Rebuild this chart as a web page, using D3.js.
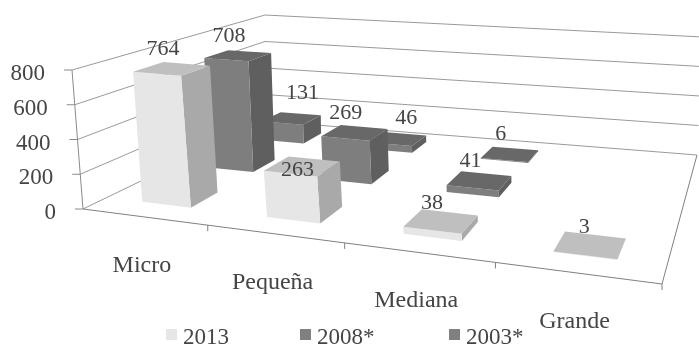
<!DOCTYPE html>
<html>
<head>
<meta charset="utf-8">
<script src="https://cdn.jsdelivr.net/npm/d3@7"></script>
<style>
  html, body { margin: 0; padding: 0; background: #fff; }
  svg { display: block; }
  text { font-family: "Liberation Serif", serif; font-size: 23px; fill: #444; }
  .vlabel { font-size: 22px; }
  .xlabel { font-size: 24px; }
</style>
</head>
<body>
<div id="chart"></div>
<script>
const categories = ['Micro', 'Pequeña', 'Mediana', 'Grande'];
const seriesNames = ['2013', '2008*', '2003*'];
const values2013 = [764, 263, 38, 3];
const values2008 = [708, 269, 41, null];
const values2003 = [131, 46, 6, null];
const yTicks = [0, 200, 400, 600, 800];

const seriesValues = [values2013, values2008, values2003];
const faceColors = [
  { front: '#e6e6e6', side: '#a9a9a9', top: '#bfbfbf' },
  { front: '#7e7e7e', side: '#5f5f5f', top: '#686868' },
  { front: '#7e7e7e', side: '#5f5f5f', top: '#686868' }
];
// labels the original chart moved off their bars
const labelShift = { 131: [20, -5], 46: [18, -1], 263: [4, 24], 38: [0, 2], 3: [3, 2] };
const legendLeft = [166, 300, 449];

const width = 699, height = 346;

const svg = d3.select('#chart').append('svg')
  .attr('width', width)
  .attr('height', height);

svg.append('defs').append('filter').attr('id', 'soft')
  .append('feGaussianBlur').attr('stdDeviation', 0.65);

const g = svg.append('g').attr('filter', 'url(#soft)');

// unit square -> quad, corners go front-left, front-right, back-right, back-left
function quadMap(p) {
  const [x0, y0] = p[0], [x1, y1] = p[1], [x2, y2] = p[2], [x3, y3] = p[3];
  const dx1 = x1 - x2, dx2 = x3 - x2, sx = x0 - x1 + x2 - x3;
  const dy1 = y1 - y2, dy2 = y3 - y2, sy = y0 - y1 + y2 - y3;
  const den = dx1 * dy2 - dx2 * dy1;
  const a7 = (sx * dy2 - dx2 * sy) / den;
  const a8 = (dx1 * sy - sx * dy1) / den;
  const a1 = x1 - x0 + a7 * x1, a2 = x3 - x0 + a8 * x3;
  const a4 = y1 - y0 + a7 * y1, a5 = y3 - y0 + a8 * y3;
  return (u, v) => {
    const w = a7 * u + a8 * v + 1;
    return [(a1 * u + a2 * v + x0) / w, (a4 * u + a5 * v + y0) / w];
  };
}

const floorMap = quadMap([[83, 209], [662, 284], [697, 155], [265, 121]]);
const ceilMap = quadMap([[72, 70], [677, 125], [703, 37], [265, 15]]);

// category -> u, series -> v (depth), value -> w (height)
const xScale = d3.scaleBand().domain(categories).range([0, 1]).paddingInner(0.6).paddingOuter(0.3);
const zScale = d3.scaleBand().domain(seriesNames).range([0, 1]).paddingInner(0.6).paddingOuter(0.3);
const yScale = d3.scaleLinear().domain([0, 800]).range([0, 1]);

function project(u, v, w) {
  // the quads foreshorten a bit too much along the front edge
  const uu = u + 0.06 * u * (1 - u);
  const a = floorMap(uu, v), b = ceilMap(uu, v);
  return [a[0] + (b[0] - a[0]) * w, a[1] + (b[1] - a[1]) * w];
}

function addLine(pts, stroke) {
  g.append('path')
    .attr('d', d3.line()(pts))
    .attr('fill', 'none')
    .attr('stroke', stroke)
    .attr('stroke-width', 1);
}

// walls
yTicks.forEach(t => {
  const w = yScale(t);
  addLine([project(0, 0, w), project(0, 1, w), project(1, 1, w)], '#9a9a9a');
  const p = project(0, 0, w);
  addLine([[p[0] - 8, p[1]], p], '#8a8a8a');
});
addLine([project(0, 0, 0), project(0, 0, 1)], '#8a8a8a');

// floor edges and category ticks
addLine([project(0, 0, 0), project(1, 0, 0), project(1, 1, 0)], '#808080');
d3.range(1, categories.length + 1).forEach(i => {
  const p = project(i / categories.length, 0, 0);
  addLine([p, [p[0], p[1] + 6]], '#808080');
});

// y axis labels
g.selectAll('.ylabel')
  .data(yTicks)
  .enter().append('text')
  .attr('class', 'ylabel')
  .attr('text-anchor', 'end')
  .attr('x', d => project(0, 0, yScale(d))[0] - 27)
  .attr('y', d => project(0, 0, yScale(d))[1] + 10)
  .text(d => d);

// bars, back row first
const bars = [];
seriesNames.forEach((s, si) => {
  categories.forEach((c, ci) => {
    if (seriesValues[si][ci] !== null) bars.push({ s, si, c, value: seriesValues[si][ci] });
  });
});
bars.sort((a, b) => b.si - a.si);

bars.forEach(d => {
  const u0 = xScale(d.c), u1 = u0 + xScale.bandwidth();
  const v0 = zScale(d.s), v1 = v0 + zScale.bandwidth();
  const w = yScale(d.value);
  const faces = [
    { key: 'side', pts: [[u1, v0, 0], [u1, v1, 0], [u1, v1, w], [u1, v0, w]] },
    { key: 'front', pts: [[u0, v0, 0], [u1, v0, 0], [u1, v0, w], [u0, v0, w]] },
    { key: 'top', pts: [[u0, v0, w], [u1, v0, w], [u1, v1, w], [u0, v1, w]] }
  ];
  g.append('g').selectAll('polygon')
    .data(faces)
    .enter().append('polygon')
    .attr('points', f => f.pts.map(q => project(q[0], q[1], q[2]).join(',')).join(' '))
    .attr('fill', f => faceColors[d.si][f.key]);
});

// data labels
function labelAnchor(d) {
  const p = project(xScale(d.c) + xScale.bandwidth() / 2, zScale(d.s) + zScale.bandwidth() / 2, yScale(d.value));
  const shift = labelShift[d.value] || [0, 0];
  return [p[0] - 9 + shift[0], p[1] - 14 + shift[1]];
}
g.selectAll('.vlabel')
  .data(bars)
  .enter().append('text')
  .attr('class', 'vlabel')
  .attr('text-anchor', 'middle')
  .attr('x', d => labelAnchor(d)[0])
  .attr('y', d => labelAnchor(d)[1])
  .text(d => d.value);

// category labels
g.selectAll('.xlabel')
  .data(categories)
  .enter().append('text')
  .attr('class', 'xlabel')
  .attr('text-anchor', 'middle')
  .attr('x', d => project(xScale(d) + xScale.bandwidth() / 2, 0, 0)[0] - 2)
  .attr('y', d => project(xScale(d) + xScale.bandwidth() / 2, 0, 0)[1] + 55)
  .text(d => d);

// legend
const legend = g.selectAll('.legend')
  .data(seriesNames)
  .enter().append('g')
  .attr('class', 'legend')
  .attr('transform', (d, i) => `translate(${legendLeft[i]},329)`);
legend.append('rect')
  .attr('width', 11).attr('height', 11)
  .attr('fill', (d, i) => i === 0 ? '#e6e6e6' : '#808080');
legend.append('text')
  .attr('x', 17).attr('y', 15)
  .text(d => d);
</script>
</body>
</html>
